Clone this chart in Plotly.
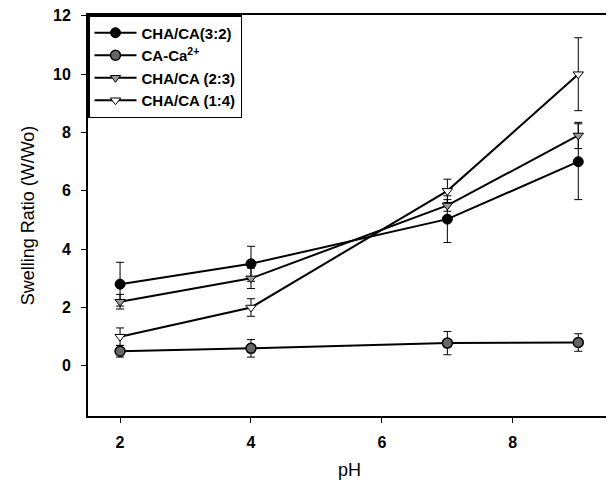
import plotly.graph_objects as go

ph = [2, 4, 7, 9]
names = ["CHA/CA(3:2)", "CA-Ca<sup>2+</sup>", "CHA/CA (2:3)", "CHA/CA (1:4)"]
s32 = [2.8, 3.5, 5.03, 7.0]
e32 = [0.75, 0.6, 0.8, 1.3]
sca = [0.5, 0.6, 0.78, 0.8]
eca = [0.2, 0.3, 0.4, 0.3]
s23 = [2.2, 3.0, 5.5, 7.9]
e23 = [0.25, 0.35, 0.2, 0.45]
s14 = [1.0, 2.0, 6.0, 10.0]
e14 = [0.3, 0.3, 0.4, 1.25]
xticks = [2, 4, 6, 8]
yticks = [0, 2, 4, 6, 8, 10, 12]

styles = [
    dict(symbol="circle", size=10, color="black", line=dict(color="black", width=1)),
    dict(symbol="circle", size=10, color="#666666", line=dict(color="black", width=1.5)),
    dict(symbol="triangle-down", size=9, color="#9a9a9a", line=dict(color="black", width=1)),
    dict(symbol="triangle-down", size=9, color="white", line=dict(color="black", width=1)),
]

fig = go.Figure()
for name, ys, es, mk in zip(names, [s32, sca, s23, s14], [e32, eca, e23, e14], styles):
    fig.add_trace(go.Scatter(
        x=ph, y=ys, name=name, mode="lines+markers",
        line=dict(color="black", width=2),
        marker=mk,
        error_y=dict(type="data", array=es, color="black", thickness=1, width=4),
    ))

# the page body adds an 8px offset, so the figure is sized to fit inside the window
fig.update_layout(
    width=606, height=474,
    margin=dict(l=80, r=3, t=7, b=66),
    paper_bgcolor="white", plot_bgcolor="white",
    font=dict(family="Liberation Sans, Arial", color="black"),
    legend=dict(x=0, y=1, xanchor="left", yanchor="top",
                bordercolor="black", borderwidth=1.5, bgcolor="white",
                font=dict(size=15, weight="bold"), tracegroupgap=0, itemwidth=42),
    xaxis=dict(range=[1.51, 9.5], tickvals=xticks,
               ticks="outside", ticklen=5, tickcolor="black", ticklabelstandoff=6,
               ticklabeloverflow="allow",
               showline=True, linecolor="black", linewidth=2, mirror=True,
               showgrid=False, zeroline=False, automargin=False,
               tickfont=dict(size=16, weight="bold"),
               title=dict(text="pH", font=dict(size=18), standoff=13)),
    yaxis=dict(range=[-1.72, 12.03], tickvals=yticks,
               ticks="outside", ticklen=5, tickcolor="black", ticklabelstandoff=7,
               ticklabeloverflow="allow",
               showline=True, linecolor="black", linewidth=2, mirror=True,
               showgrid=False, zeroline=False, automargin=False,
               tickfont=dict(size=16, weight="bold"),
               title=dict(text="Swelling Ratio (W/Wo)", font=dict(size=18), standoff=14)),
)

fig.write_html("out.html")
